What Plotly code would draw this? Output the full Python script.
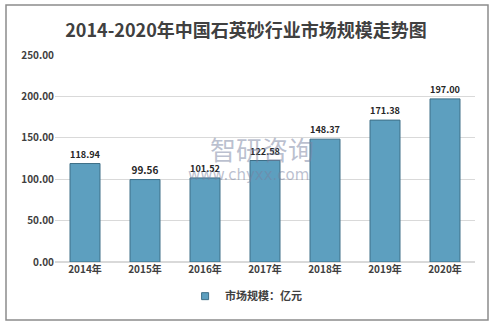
import plotly.graph_objects as go

years = ["2014年", "2015年", "2016年", "2017年", "2018年", "2019年", "2020年"]
values = [118.94, 99.56, 101.52, 122.58, 148.37, 171.38, 197.00]
labels = ["118.94", "99.56", "101.52", "122.58", "148.37", "171.38", "197.00"]
y_ticks = [0, 50, 100, 150, 200, 250]
y_tick_text = ["0.00", "50.00", "100.00", "150.00", "200.00", "250.00"]

font_cn = "Noto Sans CJK SC"

fig = go.Figure()
fig.add_trace(go.Bar(
    x=years, y=values, name="市场规模：亿元", showlegend=False,
    width=0.5,
    marker=dict(color="#5d9fbf", line=dict(color="#3e6f87", width=1)),
    text=labels, textposition="outside", cliponaxis=False,
    textfont=dict(family=font_cn, size=10, color="#262626", weight="bold"),
))
# legend entry with a small square symbol
fig.add_trace(go.Scatter(
    x=[None], y=[None], mode="markers", name="市场规模：亿元",
    marker=dict(symbol="square", size=7, color="#5d9fbf", line=dict(color="#3e6f87", width=1)),
))

fig.update_layout(
    width=492, height=324,
    margin=dict(l=55, r=17, t=55, b=62),
    paper_bgcolor="white", plot_bgcolor="white",
    title=dict(text="2014-2020年中国石英砂行业市场规模走势图", x=0.5, xanchor="center",
               y=0.905, yanchor="middle",
               font=dict(family=font_cn, size=18, color="#404040", weight="bold")),
    showlegend=True,
    legend=dict(orientation="h", x=0.455, xanchor="center", y=-0.165, yanchor="middle",
                font=dict(family=font_cn, size=11, color="#404040", weight="bold"),
                itemwidth=30, itemsizing="trace"),
    yaxis=dict(range=[0, 250], tickvals=y_ticks, ticktext=y_tick_text,
               showgrid=True, gridcolor="#d9d9d9", gridwidth=1, zeroline=True,
               zerolinecolor="#d9d9d9", showline=False, ticks="", ticklen=0,
               tickfont=dict(family=font_cn, size=10, color="#404040", weight="bold")),
    xaxis=dict(showline=False, ticks="",
               tickfont=dict(family=font_cn, size=10, color="#404040", weight="bold")),
    bargap=0.5,
)

# outer frame
fig.add_shape(type="rect", xref="paper", yref="paper",
              x0=(6 - 55) / 420, x1=(488 - 55) / 420,
              y0=(262 - 320) / 207, y1=(262 - 5) / 207,
              line=dict(color="#8c8c8c", width=1.5), layer="below")

# watermark
fig.add_annotation(xref="paper", yref="paper", x=(262 - 55) / 420, y=(262 - 148) / 207,
                   text="智研咨询", showarrow=False,
                   font=dict(family=font_cn, size=26, color="rgba(120,130,160,0.5)"))
fig.add_annotation(xref="paper", yref="paper", x=(248 - 55) / 420, y=(262 - 175) / 207,
                   text="www.chyxx.com", showarrow=False,
                   font=dict(family="DejaVu Sans", size=15, color="rgba(120,130,160,0.5)"))

fig.write_html("out.html")
